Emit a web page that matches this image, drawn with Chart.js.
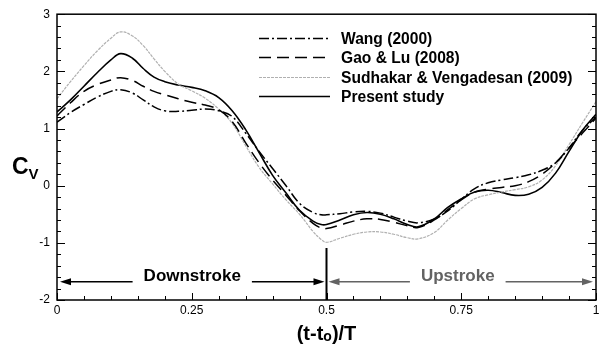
<!DOCTYPE html>
<html>
<head>
<meta charset="utf-8">
<script src="https://cdn.jsdelivr.net/npm/chart.js@4.4.1/dist/chart.umd.min.js"></script>
<style>
html,body{margin:0;padding:0;background:#fff;}
canvas{display:block;}
</style>
</head>
<body>
<canvas id="c" width="604" height="347"></canvas>
<script>
// ---- data ----
const tValues = [0, 0.025, 0.05, 0.075, 0.1, 0.118, 0.14, 0.16, 0.18, 0.2, 0.225, 0.25, 0.275, 0.3, 0.325, 0.35, 0.375, 0.4, 0.425, 0.45, 0.475, 0.49, 0.5, 0.525, 0.55, 0.575, 0.6, 0.625, 0.65, 0.67, 0.7, 0.725, 0.75, 0.775, 0.8, 0.825, 0.85, 0.875, 0.9, 0.925, 0.95, 0.975, 1];
const wang = [1.11, 1.28, 1.42, 1.55, 1.65, 1.68, 1.62, 1.50, 1.38, 1.31, 1.30, 1.32, 1.34, 1.31, 1.21, 0.92, 0.60, 0.30, 0.00, -0.31, -0.47, -0.51, -0.51, -0.49, -0.46, -0.45, -0.48, -0.55, -0.62, -0.65, -0.58, -0.44, -0.24, -0.05, 0.05, 0.10, 0.14, 0.19, 0.27, 0.40, 0.66, 0.97, 1.20];
const gaoLu = [1.22, 1.45, 1.65, 1.77, 1.85, 1.89, 1.84, 1.74, 1.65, 1.59, 1.52, 1.46, 1.41, 1.33, 1.12, 0.75, 0.40, 0.10, -0.17, -0.44, -0.66, -0.74, -0.75, -0.69, -0.62, -0.58, -0.59, -0.64, -0.70, -0.73, -0.60, -0.42, -0.25, -0.11, -0.06, -0.03, 0.00, 0.07, 0.20, 0.40, 0.66, 0.92, 1.18];
const sudhakar = [1.52, 1.82, 2.10, 2.36, 2.58, 2.69, 2.62, 2.45, 2.22, 2.00, 1.78, 1.66, 1.53, 1.34, 1.09, 0.70, 0.32, 0.03, -0.25, -0.50, -0.80, -0.94, -0.99, -0.92, -0.85, -0.81, -0.81, -0.85, -0.91, -0.93, -0.82, -0.60, -0.40, -0.23, -0.16, -0.11, -0.07, -0.02, 0.10, 0.35, 0.72, 1.10, 1.47];
const present = [1.29, 1.50, 1.74, 1.98, 2.20, 2.31, 2.23, 2.05, 1.90, 1.82, 1.76, 1.72, 1.66, 1.54, 1.31, 0.98, 0.58, 0.18, -0.13, -0.43, -0.62, -0.68, -0.68, -0.60, -0.51, -0.47, -0.50, -0.58, -0.68, -0.72, -0.58, -0.38, -0.23, -0.11, -0.08, -0.12, -0.17, -0.15, -0.03, 0.22, 0.60, 0.97, 1.25];
const seriesLabels = ['Wang (2000)', 'Gao & Lu (2008)', 'Sudhakar & Vengadesan (2009)', 'Present study'];
const xTickValues = [0, 0.25, 0.5, 0.75, 1];
const xTickLabels = ['0', '0.25', '0.5', '0.75', '1'];
const yTickValues = [-2, -1, 0, 1, 2, 3];
const yTickLabels = ['-2', '-1', '0', '1', '2', '3'];
const phaseLabels = ['Downstroke', 'Upstroke'];
const phaseRanges = [[0, 0.5], [0.5, 1]];
const phaseArrowValue = -1.68;
const dividerRange = [-2, -1.09];

const FONT = '"Liberation Sans", Arial, Helvetica, sans-serif';
const pts = arr => tValues.map((t, i) => ({x: t, y: arr[i]}));

const styles = [
  {borderColor: '#000', borderWidth: 1.5, borderDash: [10, 3, 2, 3]},
  {borderColor: '#000', borderWidth: 1.5, borderDash: [12, 6]},
  {borderColor: '#b0b0b0', borderWidth: 1.2, borderDash: [3, 1]},
  {borderColor: '#000', borderWidth: 1.6, borderDash: []}
];
const seriesData = [wang, gaoLu, sudhakar, present];

const datasets = seriesData.map((d, i) => Object.assign({
  label: seriesLabels[i],
  data: pts(d),
  pointRadius: 0,
  tension: 0.4,
  fill: false
}, styles[i]));

const framePlugin = {
  id: 'frame',
  afterDraw(chart) {
    const ctx = chart.ctx, a = chart.chartArea;
    const xs = chart.scales.x, ys = chart.scales.y;
    ctx.save();
    // ticks (inward)
    ctx.strokeStyle = '#000';
    ctx.lineWidth = 1;
    ctx.beginPath();
    for (let i = 0; i <= 20; i++) {
      const v = i * 0.05;
      const px = Math.round(xs.getPixelForValue(v)) + 0.5;
      const major = i % 5 === 0;
      ctx.moveTo(px, a.bottom);
      ctx.lineTo(px, a.bottom - (major ? 7 : 4));
    }
    for (let i = 0; i <= 25; i++) {
      const v = -2 + i * 0.2;
      const py = Math.round(ys.getPixelForValue(v)) + 0.5;
      const major = i % 5 === 0;
      const len = major ? 8 : 4;
      ctx.moveTo(a.left, py); ctx.lineTo(a.left + len, py);
      ctx.moveTo(a.right, py); ctx.lineTo(a.right - len, py);
    }
    ctx.stroke();
    // frame
    ctx.lineWidth = 1.5;
    ctx.strokeRect(a.left, a.top, a.right - a.left, a.bottom - a.top);

    // divider at mid stroke
    const xm = xs.getPixelForValue(0.5);
    ctx.lineWidth = 2;
    ctx.beginPath();
    ctx.moveTo(xm, ys.getPixelForValue(dividerRange[1]));
    ctx.lineTo(xm, ys.getPixelForValue(dividerRange[0]));
    ctx.stroke();

    // phase arrows
    const ay = ys.getPixelForValue(phaseArrowValue);
    const colors = ['#000', '#636363'];
    ctx.font = 'bold 17px ' + FONT;
    ctx.textBaseline = 'alphabetic';
    ctx.textAlign = 'center';
    phaseRanges.forEach((r, i) => {
      const x0 = xs.getPixelForValue(r[0]) + (i === 0 ? 3 : 2);
      const x1 = xs.getPixelForValue(r[1]) - (i === 0 ? 2 : 3);
      const label = phaseLabels[i];
      const w = ctx.measureText(label).width;
      const cx = (x0 + x1) / 2 + (i === 0 ? 0 : -3);
      ctx.strokeStyle = colors[i];
      ctx.fillStyle = colors[i];
      ctx.lineWidth = 1.5;
      ctx.beginPath();
      ctx.moveTo(x0 + 10, ay); ctx.lineTo(cx - w / 2 - 11, ay);
      ctx.moveTo(cx + w / 2 + 11, ay); ctx.lineTo(x1 - 10, ay);
      ctx.stroke();
      // arrowheads
      ctx.beginPath();
      ctx.moveTo(x0, ay); ctx.lineTo(x0 + 11, ay - 3.5); ctx.lineTo(x0 + 11, ay + 3.5); ctx.closePath();
      ctx.moveTo(x1, ay); ctx.lineTo(x1 - 11, ay - 3.5); ctx.lineTo(x1 - 11, ay + 3.5); ctx.closePath();
      ctx.fill();
      ctx.fillText(label, cx, ay - 1);
    });

    // legend
    const lx0 = a.left + 202, lx1 = a.left + 273, tx = a.left + 284;
    const rowY = [37.7, 57.3, 76.7, 95.7];
    ctx.font = 'bold 15.6px ' + FONT;
    ctx.textAlign = 'left';
    ctx.textBaseline = 'middle';
    datasets.forEach((ds, i) => {
      const y = Math.round(rowY[i]) + 0.5;
      ctx.strokeStyle = ds.borderColor;
      ctx.lineWidth = ds.borderWidth;
      ctx.setLineDash(ds.borderDash);
      ctx.beginPath();
      ctx.moveTo(lx0, y); ctx.lineTo(lx1, y);
      ctx.stroke();
      ctx.setLineDash([]);
      ctx.fillStyle = '#000';
      ctx.fillText(ds.label, tx, y + 1);
    });

    // axis titles
    ctx.fillStyle = '#000';
    ctx.textBaseline = 'alphabetic';
    ctx.textAlign = 'left';
    ctx.font = 'bold 23px ' + FONT;
    ctx.fillText('C', 12, 174);
    ctx.font = 'bold 15px ' + FONT;
    ctx.fillText('V', 28.5, 178.5);

    const cxT = xs.getPixelForValue(0.5);
    const big = 'bold 20px ' + FONT, small = 'bold 14px ' + FONT;
    const parts = [['(t-t', big], ['o', small], [')/T', big]];
    let total = 0;
    parts.forEach(p => { ctx.font = p[1]; total += ctx.measureText(p[0]).width; });
    let x = cxT - total / 2;
    parts.forEach((p, i) => {
      ctx.font = p[1];
      ctx.fillText(p[0], x, i === 1 ? 341 : 340);
      x += ctx.measureText(p[0]).width;
    });
    ctx.restore();
  }
};

new Chart(document.getElementById('c'), {
  type: 'line',
  data: {datasets},
  options: {
    responsive: false,
    animation: false,
    devicePixelRatio: 1,
    layout: {padding: {top: 12, right: 8, left: 0, bottom: 0}},
    plugins: {legend: {display: false}, tooltip: {enabled: false}},
    scales: {
      x: {
        type: 'linear', min: 0, max: 1,
        afterFit(s) { s.height = 47; },
        afterBuildTicks(s) { s.ticks = xTickValues.map(v => ({value: v})); },
        grid: {display: false, drawTicks: false},
        border: {display: false},
        ticks: {
          padding: 3, color: '#000', maxRotation: 0, autoSkip: false,
          font: {family: FONT, size: 12},
          callback: (v) => { const i = xTickValues.indexOf(v); return i >= 0 ? xTickLabels[i] : ''; }
        }
      },
      y: {
        type: 'linear', min: -2, max: 3,
        afterFit(s) { s.width = 57; },
        afterBuildTicks(s) { s.ticks = yTickValues.map(v => ({value: v})); },
        grid: {display: false, drawTicks: false},
        border: {display: false},
        ticks: {
          padding: 7, color: '#000', autoSkip: false,
          font: {family: FONT, size: 12},
          callback: (v) => { const i = yTickValues.indexOf(v); return i >= 0 ? yTickLabels[i] : ''; }
        }
      }
    }
  },
  plugins: [framePlugin]
});
</script>
</body>
</html>
